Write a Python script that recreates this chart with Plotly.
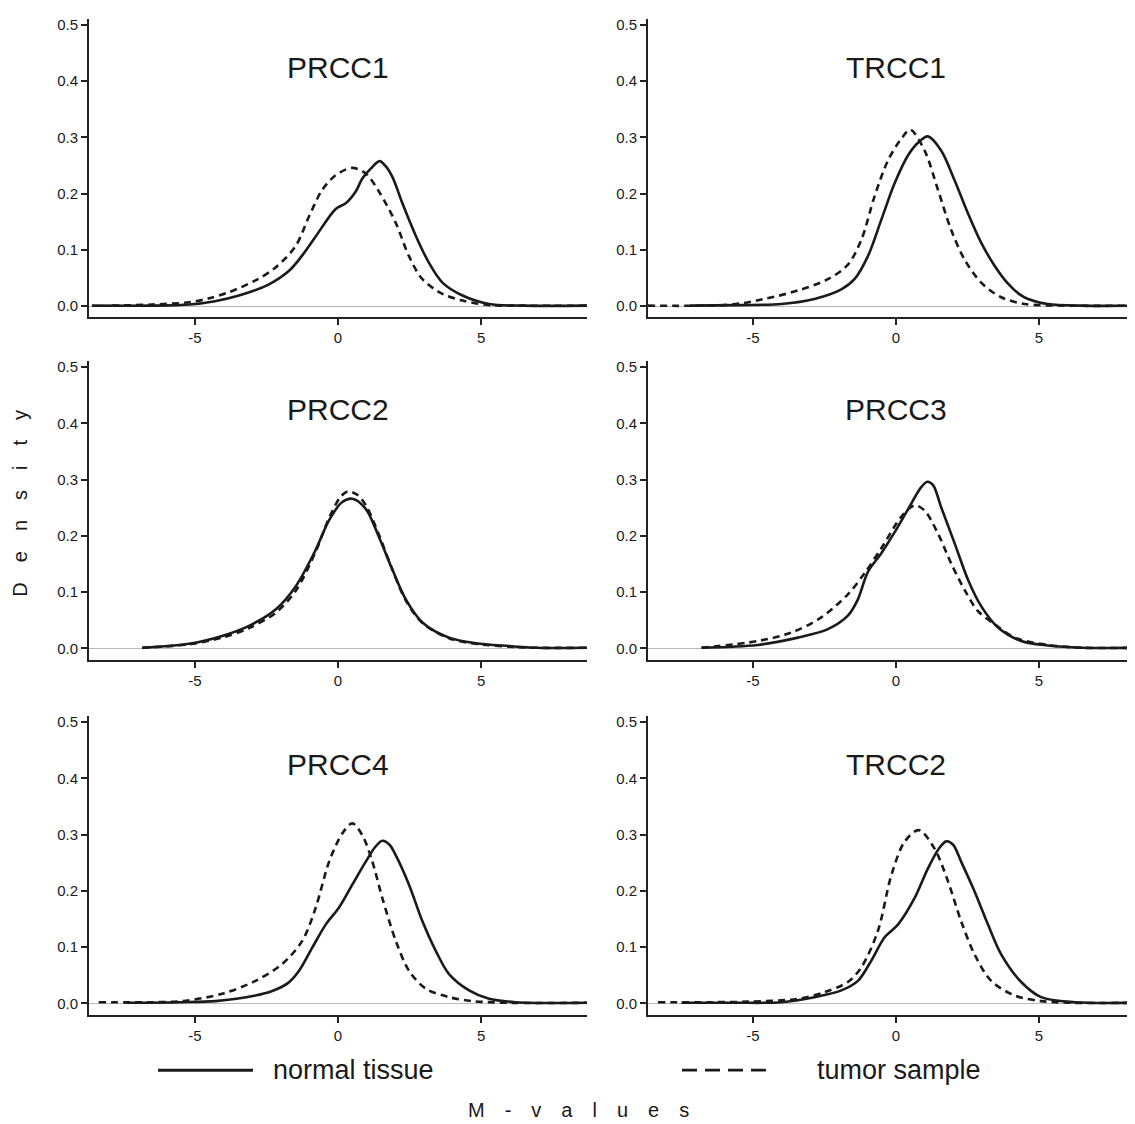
import plotly.graph_objects as go

# ---------------- data ----------------
panel_titles = ["PRCC1", "TRCC1", "PRCC2", "PRCC3", "PRCC4", "TRCC2"]
series_names = ["normal tissue", "tumor sample"]

prcc1_normal_x = [-8.6, -6.5, -5.2, -4.3, -3.46, -2.41, -1.71, -1.27, -0.78, -0.08, 0.27, 0.62, 0.85, 1.15, 1.45, 1.65, 1.9, 2.25, 2.72, 3.18, 3.65, 4.35, 5.28, 6.5, 8.7]
prcc1_normal_y = [0.001, 0.001, 0.003, 0.009, 0.019, 0.039, 0.063, 0.089, 0.124, 0.173, 0.183, 0.204, 0.227, 0.245, 0.258, 0.250, 0.230, 0.183, 0.125, 0.077, 0.042, 0.019, 0.004, 0.001, 0.001]
prcc1_tumor_x = [-7.9, -6.5, -5.2, -4.5, -3.81, -2.88, -2.18, -1.48, -1.01, -0.55, -0.08, 0.5, 0.97, 1.43, 2.02, 2.48, 2.95, 3.65, 4.35, 5.28, 6.5, 8.7]
prcc1_tumor_y = [0.001, 0.003, 0.007, 0.014, 0.025, 0.046, 0.069, 0.107, 0.160, 0.207, 0.233, 0.246, 0.236, 0.204, 0.148, 0.089, 0.048, 0.022, 0.010, 0.002, 0.001, 0.001]

trcc1_normal_x = [-7.2, -5.5, -4.0, -2.85, -1.91, -1.45, -0.98, -0.51, -0.05, 0.42, 0.8, 1.12, 1.58, 2.05, 2.52, 2.98, 3.45, 3.92, 4.3, 4.62, 5.31, 6.5, 8.4]
trcc1_normal_y = [0.001, 0.002, 0.004, 0.013, 0.030, 0.048, 0.089, 0.154, 0.218, 0.268, 0.292, 0.302, 0.277, 0.224, 0.165, 0.113, 0.072, 0.040, 0.022, 0.013, 0.004, 0.001, 0.001]
trcc1_tumor_x = [-8.67, -5.76, -4.59, -3.43, -2.38, -1.68, -1.21, -0.75, -0.28, 0.19, 0.5, 1.0, 1.47, 1.93, 2.4, 2.98, 3.68, 4.5, 6.0, 8.4]
trcc1_tumor_y = [0.001, 0.003, 0.013, 0.028, 0.048, 0.074, 0.118, 0.195, 0.259, 0.298, 0.314, 0.277, 0.207, 0.136, 0.083, 0.042, 0.016, 0.004, 0.001, 0.001]

prcc2_normal_x = [-6.84, -5.21, -4.05, -3.11, -2.18, -1.48, -0.78, -0.31, 0.15, 0.5, 0.97, 1.43, 1.9, 2.37, 2.95, 3.88, 4.81, 5.98, 6.91, 8.7]
prcc2_normal_y = [0.001, 0.008, 0.022, 0.040, 0.069, 0.110, 0.175, 0.228, 0.260, 0.266, 0.248, 0.198, 0.140, 0.087, 0.046, 0.019, 0.009, 0.004, 0.001, 0.001]
prcc2_tumor_x = [-6.84, -5.21, -4.05, -3.11, -2.18, -1.48, -0.78, -0.31, 0.1, 0.35, 0.7, 1.0, 1.43, 1.9, 2.37, 2.95, 3.88, 4.81, 5.98, 6.91, 8.7]
prcc2_tumor_y = [0.001, 0.007, 0.019, 0.036, 0.063, 0.102, 0.172, 0.232, 0.270, 0.279, 0.272, 0.252, 0.202, 0.140, 0.085, 0.045, 0.018, 0.008, 0.003, 0.001, 0.001]

prcc3_normal_x = [-6.8, -4.83, -3.43, -2.38, -1.68, -1.33, -0.98, -0.51, -0.05, 0.42, 0.89, 1.1, 1.3, 1.58, 2.05, 2.52, 2.98, 3.57, 4.38, 5.31, 6.5, 8.4]
prcc3_normal_y = [0.001, 0.006, 0.019, 0.034, 0.058, 0.087, 0.136, 0.169, 0.206, 0.247, 0.287, 0.296, 0.290, 0.251, 0.187, 0.122, 0.075, 0.037, 0.013, 0.005, 0.001, 0.001]
prcc3_tumor_x = [-6.8, -4.83, -3.66, -2.61, -1.68, -1.09, -0.51, 0.19, 0.65, 1.0, 1.47, 1.93, 2.4, 2.87, 3.45, 4.15, 5.31, 6.5, 8.4]
prcc3_tumor_y = [0.001, 0.013, 0.028, 0.055, 0.096, 0.134, 0.178, 0.234, 0.254, 0.245, 0.204, 0.151, 0.104, 0.066, 0.043, 0.019, 0.006, 0.001, 0.001]

prcc4_normal_x = [-7.42, -5.5, -4.28, -2.88, -2.3, -1.75, -1.36, -0.9, -0.43, 0.03, 0.5, 0.97, 1.3, 1.55, 1.8, 2.02, 2.48, 2.95, 3.42, 3.88, 4.58, 5.28, 6.21, 8.7]
prcc4_normal_y = [0.001, 0.002, 0.004, 0.014, 0.022, 0.036, 0.058, 0.099, 0.140, 0.170, 0.211, 0.252, 0.278, 0.289, 0.282, 0.263, 0.211, 0.146, 0.093, 0.052, 0.023, 0.008, 0.002, 0.001]
prcc4_tumor_x = [-8.36, -6.5, -5.44, -4.05, -2.88, -1.95, -1.25, -0.78, -0.31, 0.15, 0.5, 0.85, 1.2, 1.55, 2.02, 2.48, 3.07, 3.88, 4.69, 6.0, 8.7]
prcc4_tumor_y = [0.002, 0.002, 0.004, 0.017, 0.040, 0.070, 0.111, 0.170, 0.252, 0.302, 0.320, 0.299, 0.252, 0.187, 0.111, 0.058, 0.026, 0.011, 0.004, 0.001, 0.001]

trcc2_normal_x = [-7.5, -5.5, -4.01, -2.85, -1.91, -1.33, -0.86, -0.4, 0.07, 0.65, 1.12, 1.5, 1.76, 2.0, 2.28, 2.75, 3.22, 3.68, 4.38, 5.08, 6.25, 8.4]
trcc2_normal_y = [0.001, 0.001, 0.002, 0.011, 0.023, 0.040, 0.076, 0.117, 0.140, 0.187, 0.240, 0.275, 0.288, 0.282, 0.252, 0.199, 0.140, 0.087, 0.038, 0.011, 0.002, 0.001]
trcc2_tumor_x = [-8.32, -6.5, -5.17, -3.43, -2.49, -1.68, -1.21, -0.63, -0.16, 0.3, 0.8, 1.35, 1.82, 2.28, 2.75, 3.33, 4.15, 5.08, 6.2, 8.4]
trcc2_tumor_y = [0.002, 0.002, 0.003, 0.008, 0.020, 0.038, 0.064, 0.129, 0.228, 0.287, 0.308, 0.275, 0.217, 0.146, 0.087, 0.040, 0.014, 0.004, 0.001, 0.001]

y_tick_vals = [0.0, 0.1, 0.2, 0.3, 0.4, 0.5]
x_tick_vals = [-5, 0, 5]

panels = [
    (prcc1_normal_x, prcc1_normal_y, prcc1_tumor_x, prcc1_tumor_y),
    (trcc1_normal_x, trcc1_normal_y, trcc1_tumor_x, trcc1_tumor_y),
    (prcc2_normal_x, prcc2_normal_y, prcc2_tumor_x, prcc2_tumor_y),
    (prcc3_normal_x, prcc3_normal_y, prcc3_tumor_x, prcc3_tumor_y),
    (prcc4_normal_x, prcc4_normal_y, prcc4_tumor_x, prcc4_tumor_y),
    (trcc2_normal_x, trcc2_normal_y, trcc2_tumor_x, trcc2_tumor_y),
]

# ---------------- layout geometry ----------------
OFF = 8                     # default page body margin
W, H = 1135 - OFF, 1124 - OFF
FONT = "Arial, 'Liberation Sans', Helvetica, sans-serif"
INK = "#1a1a1a"


def px(xp):
    return (xp - OFF) / W


def py(yp):
    return 1 - (yp - OFF) / H


col_domains = [[px(89), px(587)], [px(648), 1.0]]
col_ranges = [[-8.7, 8.7], [-8.67, 8.36]]
row_px = [(16.4, 315.3), (359.4, 658.3), (715.4, 1014.3)]
row_domains = [[py(b), py(t)] for (t, b) in row_px]
y_range = [-0.02, 0.51]

fig = go.Figure()
layout = dict(
    width=W, height=H,
    margin=dict(l=0, r=0, t=0, b=0),
    paper_bgcolor="white", plot_bgcolor="white",
    showlegend=False,
    font=dict(family=FONT, color=INK),
)

annotations = []
for i, (nx, ny, tx, ty) in enumerate(panels):
    r, c = divmod(i, 2)
    k = "" if i == 0 else str(i + 1)
    xa, ya = "x" + k, "y" + k
    fig.add_trace(go.Scatter(
        x=tx, y=ty, mode="lines", name=series_names[1],
        line=dict(color=INK, width=2.6, dash="7px,5px", shape="spline", smoothing=0.9),
        xaxis=xa, yaxis=ya))
    fig.add_trace(go.Scatter(
        x=nx, y=ny, mode="lines", name=series_names[0],
        line=dict(color=INK, width=2.6, shape="spline", smoothing=0.9),
        xaxis=xa, yaxis=ya))
    layout["xaxis" + k] = dict(
        domain=col_domains[c], range=col_ranges[c], anchor=ya,
        showgrid=False, zeroline=False,
        showline=True, linecolor="#222", linewidth=2,
        ticks="outside", ticklen=6, tickwidth=1.5, tickcolor="#222",
        tickvals=x_tick_vals, ticktext=[str(v) for v in x_tick_vals],
        tickfont=dict(family=FONT, size=15, color=INK),
        fixedrange=True,
    )
    layout["yaxis" + k] = dict(
        domain=row_domains[r], range=y_range, anchor=xa,
        showgrid=False,
        zeroline=True, zerolinecolor="#b8b8b8", zerolinewidth=1.2,
        showline=True, linecolor="#222", linewidth=2,
        ticks="outside", ticklen=6, tickwidth=1.5, tickcolor="#222",
        tickvals=y_tick_vals, ticktext=["%.1f" % v for v in y_tick_vals],
        tickfont=dict(family=FONT, size=15, color=INK),
        fixedrange=True,
    )
    annotations.append(dict(
        text=panel_titles[i], x=0, y=0.425, xref=xa, yref=ya,
        showarrow=False, xanchor="center", yanchor="middle",
        font=dict(family=FONT, size=30, color=INK)))

sp = "\u2003"
annotations.append(dict(
    text=sp.join("Density"), x=px(20), y=py(502), xref="paper", yref="paper",
    textangle=-90, showarrow=False, xanchor="center", yanchor="middle",
    font=dict(family=FONT, size=20, color=INK)))
annotations.append(dict(
    text=sp.join(["M", "-", "v", "a", "l", "u", "e", "s"]), x=px(578), y=py(1110),
    xref="paper", yref="paper", showarrow=False, xanchor="center", yanchor="middle",
    font=dict(family=FONT, size=20, color=INK)))

# legend (drawn manually, spread across the two columns)
leg_y = py(1070)
annotations.append(dict(
    text=series_names[0], x=px(271), y=leg_y, xref="paper", yref="paper",
    showarrow=False, xanchor="left", yanchor="middle",
    font=dict(family=FONT, size=27, color=INK)))
annotations.append(dict(
    text=series_names[1], x=px(815), y=leg_y, xref="paper", yref="paper",
    showarrow=False, xanchor="left", yanchor="middle",
    font=dict(family=FONT, size=27, color=INK)))
shapes = [
    dict(type="line", xref="paper", yref="paper", x0=px(158), x1=px(253), y0=leg_y, y1=leg_y,
         line=dict(color=INK, width=3)),
    dict(type="line", xref="paper", yref="paper", x0=px(682), x1=px(766), y0=leg_y, y1=leg_y,
         line=dict(color=INK, width=2.6, dash="15px,8px")),
]

layout["annotations"] = annotations
layout["shapes"] = shapes
fig.update_layout(**layout)
fig.write_html("out.html")
